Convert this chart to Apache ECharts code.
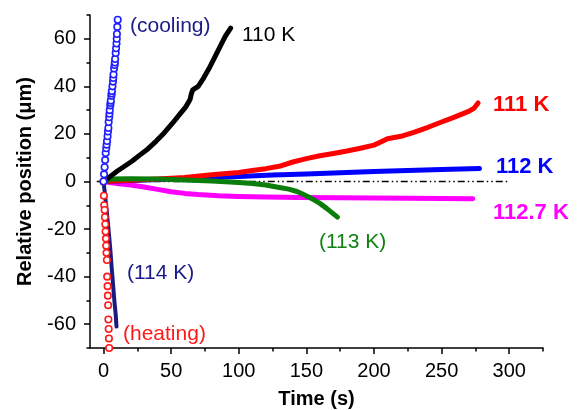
<!DOCTYPE html>
<html>
<head>
<meta charset="utf-8">
<script src="https://cdn.jsdelivr.net/npm/echarts@6/dist/echarts.min.js"></script>
<style>
html,body{margin:0;padding:0;background:#fff;}
#main{width:582px;height:410px;}
</style>
</head>
<body>
<div id="main"></div>
<script>
// axis ticks
var xMajor = [0, 50, 100, 150, 200, 250, 300];
var xMinor = [25, 75, 125, 175, 225, 275, 325];
var yMajor = [-60, -40, -20, 0, 20, 40, 60];
var yMinor = [-70, -50, -30, -10, 10, 30, 50, 70];

// 110 K
var t110 = [0, 4, 10, 15, 21, 27, 33, 39, 45, 51, 56, 61, 64, 65, 66, 70, 74, 78, 82, 86, 90, 94];
var y110 = [0, 1.7, 4.3, 6.2, 8.5, 11.2, 13.8, 17.0, 20.5, 24.5, 28.0, 31.5, 34.5, 37.0, 38.5, 40.0, 43.5, 47.5, 52, 56.5, 61, 64.5];
// 111 K
var t111 = [0, 20, 40, 60, 80, 100, 110, 120, 130, 140, 150, 160, 170, 180, 190, 200, 205, 210, 220, 230, 240, 250, 260, 270, 274, 277];
var y111 = [0, 0.5, 1.0, 1.7, 2.8, 3.8, 4.6, 5.4, 6.4, 8.2, 9.6, 10.8, 11.8, 12.8, 14.0, 15.3, 16.6, 18.0, 19.0, 20.8, 22.8, 25.0, 27.2, 29.5, 30.8, 33];
// 112 K
var t112 = [0, 25, 50, 75, 100, 125, 150, 175, 200, 225, 250, 278];
var y112 = [0, 0.5, 1.0, 1.6, 2.1, 2.7, 3.2, 3.7, 4.2, 4.6, 5.0, 5.5];
// 112.7 K
var t1127 = [0, 10, 20, 30, 40, 50, 60, 70, 85, 100, 120, 145, 175, 200, 225, 250, 273];
var y1127 = [0, -0.8, -1.5, -2.3, -3.3, -4.3, -5.0, -5.5, -6.0, -6.3, -6.5, -6.7, -6.8, -6.9, -7.0, -7.1, -7.2];
// 113 K
var t113 = [0, 5, 20, 40, 60, 80, 100, 110, 120, 130, 137, 143, 148, 152, 155, 160, 165, 170, 173];
var y113 = [0, 1, 1.2, 1.0, 0.6, 0.2, -0.4, -0.8, -1.5, -2.5, -3.2, -4.2, -5.5, -6.6, -7.5, -9.2, -11.3, -13.6, -15];
// 114 K
var t114 = [0, 1, 2, 3, 4, 5, 6, 7, 8, 9, 9.6];
var y114 = [0, -5, -10.5, -16, -22, -28.5, -36, -43, -50, -56, -61];
// cooling (open circles)
var tCool = [0, 0.4, 0.8, 1.2, 1.6, 2, 2.3, 2.6, 3, 3.3, 3.6, 3.8, 4.2, 4.4, 4.6, 5, 5.2, 5.4, 5.8, 6, 6.2, 6.6, 7, 7.2, 7.4, 7.8, 8.2, 8.4, 8.6, 9, 9.3, 9.6, 9.8, 9.9, 10.2, 10.5, 10.8];
var yCool = [0, 3, 6, 9, 12, 14, 15.5, 17, 19, 21, 22.5, 25, 27, 28.5, 30, 32, 33, 34, 36, 37, 38, 40, 42, 43.5, 45, 47.5, 49, 50, 51.5, 54, 56, 58, 60, 62, 65, 68, 71];
// heating (open circles)
var tHeat = [0, 0.3, 0.5, 0.8, 1, 1.3, 1.5, 1.8, 2, 2.2, 2.5, 2.7, 3, 3.2, 3.4, 3.6, 3.8, 4, 4.2];
var yHeat = [0, -6, -10, -12, -15, -18, -21, -24, -27, -30, -33, -40, -44, -48, -52, -58, -62, -66, -70];
// reference line
var tRef = [-5, 300];
var yRef = [0, 0];

function pairs(t, y) {
    var out = [];
    for (var i = 0; i < t.length; i++) out.push([t[i], y[i]]);
    return out;
}

var FONT = 'Liberation Sans, Arial, Helvetica, sans-serif';

function lineSeries(name, t, y, color, width) {
    return {
        name: name, type: 'line', data: pairs(t, y),
        showSymbol: false, symbol: 'none', smooth: false,
        lineStyle: {color: color, width: width, cap: 'round', join: 'round'},
        animation: false
    };
}

function circleSeries(name, t, y, color) {
    return {
        name: name, type: 'line', data: pairs(t, y),
        symbol: 'circle', symbolSize: 6.5, showAllSymbol: true,
        lineStyle: {width: 0, opacity: 0},
        itemStyle: {color: '#fff', borderColor: color, borderWidth: 1.6},
        animation: false
    };
}

function label(text, x, y, color, bold, size) {
    return {
        type: 'text', x: x, y: y, z: 100,
        style: {
            text: text, fill: color,
            font: (bold ? 'bold ' : '') + size + 'px ' + FONT,
            textAlign: 'left', textVerticalAlign: 'middle', verticalAlign: 'middle'
        }
    };
}

var axisFont = {color: '#000', fontSize: 20, fontFamily: FONT};

var myChart = echarts.init(document.getElementById('main'));
myChart.setOption({
    backgroundColor: '#fff',
    animation: false,
    grid: {left: 90, right: 39, top: 15, bottom: 62, outerBoundsMode: 'none', containLabel: false},
    xAxis: [
        {
            type: 'value', min: -10, max: 325,
            name: 'Time (s)', nameLocation: 'middle', nameGap: 41,
            nameTextStyle: {color: '#000', fontSize: 20, fontWeight: 'bold', fontFamily: FONT},
            axisLine: {onZero: false, lineStyle: {color: '#000', width: 1.5}},
            axisTick: {customValues: xMajor, length: 6, lineStyle: {color: '#000', width: 1.5}},
            axisLabel: Object.assign({customValues: xMajor, margin: 13}, axisFont),
            splitLine: {show: false}
        },
        {
            type: 'value', min: -10, max: 325, position: 'bottom',
            axisLine: {show: false, onZero: false},
            axisTick: {customValues: xMinor, length: 3.5, lineStyle: {color: '#000', width: 1.5}},
            axisLabel: {show: false},
            splitLine: {show: false}
        }
    ],
    yAxis: [
        {
            type: 'value', min: -70, max: 70,
            name: 'Relative position (μm)', nameLocation: 'middle', nameGap: 55, nameRotate: 90,
            nameTextStyle: {color: '#000', fontSize: 20, fontWeight: 'bold', fontFamily: FONT},
            axisLine: {onZero: false, lineStyle: {color: '#000', width: 1.5}},
            axisTick: {customValues: yMajor, length: 6, lineStyle: {color: '#000', width: 1.5}},
            axisLabel: Object.assign({customValues: yMajor, margin: 14}, axisFont),
            splitLine: {show: false}
        },
        {
            type: 'value', min: -70, max: 70, position: 'left',
            axisLine: {show: false, onZero: false},
            axisTick: {customValues: yMinor, length: 3.5, lineStyle: {color: '#000', width: 1.5}},
            axisLabel: {show: false},
            splitLine: {show: false}
        }
    ],
    series: [
        {
            name: 'ref', type: 'line', data: pairs(tRef, yRef), symbol: 'none',
            lineStyle: {color: '#000', width: 1.3, type: [7, 3, 1.5, 3, 1.5, 3]}, animation: false
        },
        lineSeries('112.7 K', t1127, y1127, '#ff00ff', 5),
        lineSeries('112 K', t112, y112, '#0000ff', 5),
        lineSeries('111 K', t111, y111, '#ff0000', 5),
        lineSeries('113 K', t113, y113, '#0a7d0a', 5),
        lineSeries('110 K', t110, y110, '#000000', 5),
        circleSeries('heating', tHeat, yHeat, '#ff1a1a'),
        lineSeries('114 K', t114, y114, '#1a1a80', 4),
        circleSeries('cooling', tCool, yCool, '#1f1fff')
    ],
    graphic: [
        label('(cooling)', 130, 26, '#1a1a8c', false, 21),
        label('110 K', 242, 35, '#000', false, 21),
        label('111 K', 493, 105, '#ff0000', true, 22),
        label('112 K', 496, 167, '#0000ff', true, 22),
        label('112.7 K', 493, 213, '#ff00ff', true, 22),
        label('(113 K)', 319, 242, '#128012', false, 21),
        label('(114 K)', 127, 273, '#1a1a8c', false, 21),
        label('(heating)', 123, 334, '#ff1a1a', false, 21)
    ]
});
</script>
</body>
</html>
